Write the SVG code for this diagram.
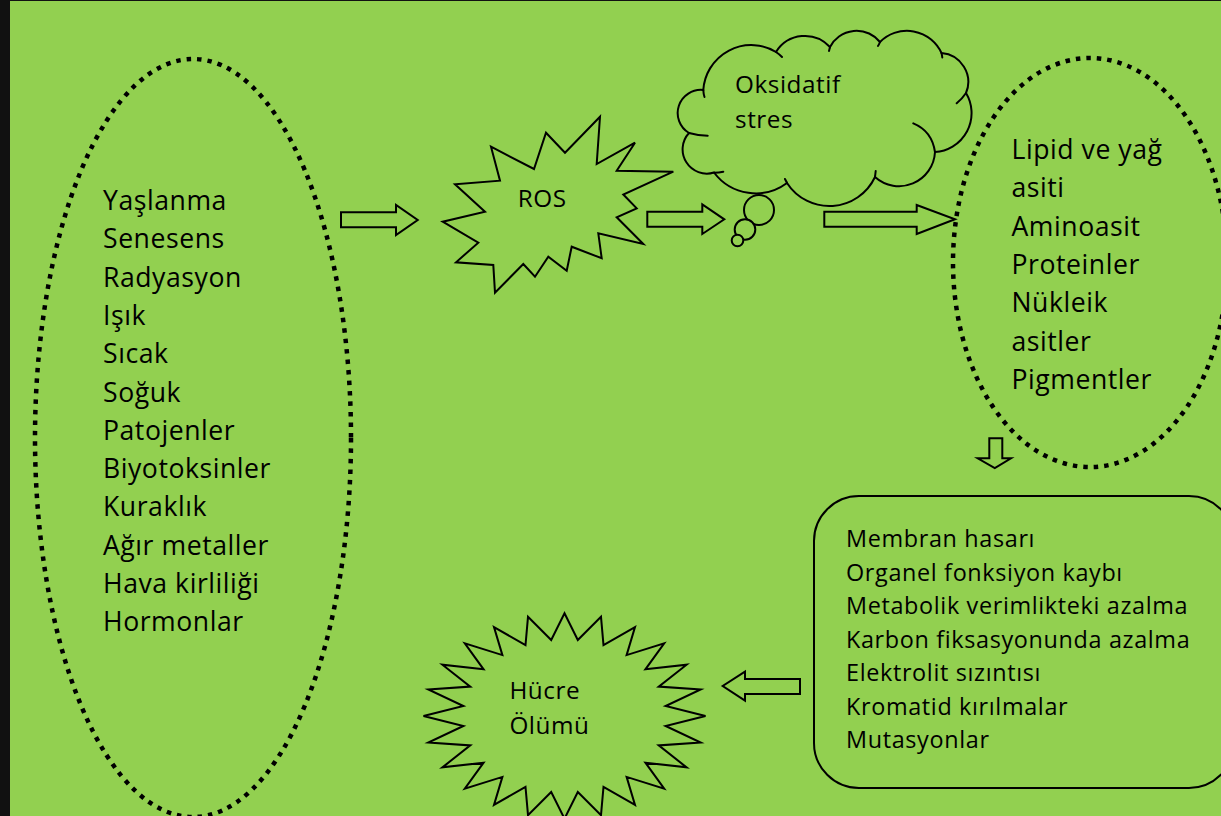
<svg xmlns="http://www.w3.org/2000/svg" width="1221" height="816" viewBox="0 0 1221 816">
<style>
.bg{fill:#92D050}
.sh{fill:#92D050;stroke:#000;stroke-width:2;stroke-linejoin:miter}
.ln{fill:none;stroke:#000;stroke-width:2;stroke-linecap:round}
.dot{fill:none;stroke:#000;stroke-width:4.5;stroke-dasharray:4.5 6}
text{font-family:"Open Sans","Noto Sans","DejaVu Sans",sans-serif;fill:#000}
.t1{font-size:26.6px;letter-spacing:0.55px}
.t2{font-size:24.3px;letter-spacing:0.55px}
.t3{font-size:23.4px;letter-spacing:0.65px}
</style>
<rect x="0" y="0" width="1221" height="816" fill="#111"/>
<rect class="bg" x="10" y="1" width="1211" height="815"/>

<g id="causes">
<ellipse class="dot" cx="193" cy="438" rx="158" ry="379"/>
<text class="t1" x="103"><tspan x="103" y="210">Yaşlanma</tspan><tspan x="103" y="248.3">Senesens</tspan><tspan x="103" y="286.6">Radyasyon</tspan><tspan x="103" y="324.9">Işık</tspan><tspan x="103" y="363.2">Sıcak</tspan><tspan x="103" y="401.5">Soğuk</tspan><tspan x="103" y="439.8">Patojenler</tspan><tspan x="103" y="478.1">Biyotoksinler</tspan><tspan x="103" y="516.4">Kuraklık</tspan><tspan x="103" y="554.7">Ağır metaller</tspan><tspan x="103" y="593">Hava kirliliği</tspan><tspan x="103" y="631.3">Hormonlar</tspan></text>
</g>

<g id="ros">
<polygon class="sh" points="491,146.7 534,169 546,132.7 565,152.7 600,116.7 596.7,164 635,142.7 616.7,170.7 673.3,171.7 623.3,194.5 636.7,208.3 616.7,217.3 643.3,244 598.3,233.3 601.7,258.3 571.7,246.7 566.7,270.7 548.3,256.7 535,276.7 523.3,264 495,292.7 493.3,265 456,262.3 478.3,242.7 442.7,221.7 485,211.7 455,184.3 500,180.7"/>
<text class="t2" x="517.7" y="206.7">ROS</text>
</g>

<g id="oksidatif-stres">
<path class="sh" d="M689,133 A23.2,23.2 0 0 1 703.3,90 A48,48 0 0 1 776,52 A34,34 0 0 1 830,47 A30,30 0 0 1 880,42 A38,38 0 0 1 941.5,53 A29,29 0 0 1 966,93 A39,39 0 0 1 935,152 A36,36 0 0 1 875,177 A50.4,50.4 0 0 1 787,183 A52.3,52.3 0 0 1 714,172.5 A24.2,24.2 0 0 1 689,133 Z"/>
<path class="ln" d="M703.3,90 Q703.5,94 704.5,97 M776,52 Q779,54 782,57 M830,47 Q829.5,49 829,51 M880,42 Q879,44.5 878,46 M941.5,53 Q942,55 942.3,57.5 M966,93 Q962,99 956.7,103.3 M935,152 Q932,131 913.3,123.3 M875,177 L875.7,171 M787,183 L785,179 M714,172.8 Q719,172.8 723.3,171.7 M689,133 Q698,135.5 707.7,135.7"/>
<circle class="sh" cx="759" cy="210" r="15"/>
<circle class="sh" cx="745" cy="229.5" r="10.3"/>
<circle class="sh" cx="737.5" cy="240.5" r="5.8"/>
<text class="t2" x="735"><tspan x="735" y="93.3">Oksidatif</tspan><tspan x="735" y="128.3">stres</tspan></text>
</g>

<g id="targets">
<ellipse class="dot" cx="1090" cy="262.5" rx="137" ry="204.5"/>
<text class="t1" x="1011.5"><tspan x="1011.5" y="159">Lipid ve yağ</tspan><tspan x="1011.5" y="197.3">asiti</tspan><tspan x="1011.5" y="235.6">Aminoasit</tspan><tspan x="1011.5" y="273.9">Proteinler</tspan><tspan x="1011.5" y="312.2">Nükleik</tspan><tspan x="1011.5" y="350.5">asitler</tspan><tspan x="1011.5" y="388.8">Pigmentler</tspan></text>
</g>

<g id="damage">
<rect class="sh" x="814" y="496" width="420" height="292" rx="45" ry="45"/>
<text class="t3" x="846"><tspan x="846" y="547">Membran hasarı</tspan><tspan x="846" y="580.5">Organel fonksiyon kaybı</tspan><tspan x="846" y="614">Metabolik verimlikteki azalma</tspan><tspan x="846" y="647.5">Karbon fiksasyonunda azalma</tspan><tspan x="846" y="681">Elektrolit sızıntısı</tspan><tspan x="846" y="714.5">Kromatid kırılmalar</tspan><tspan x="846" y="748">Mutasyonlar</tspan></text>
</g>

<g id="cell-death">
<polygon class="sh" points="564.5,613.3 577.8,640 601,616.8 603.5,645.1 635,627.1 626.6,655.1 664.2,643.4 645.4,669.3 686.6,664.7 658.7,686.6 700.7,689.4 665.6,706 705.5,716 665.6,726 700.7,742.6 658.7,745.4 686.6,767.35 645.4,762.7 664.2,788.6 626.6,776.9 635,804.9 603.5,786.9 601,815.2 577.8,792 564.5,818.7 551.2,792 528,815.2 525.5,786.9 494,804.9 502.4,776.9 464.8,788.6 483.6,762.7 442.4,767.35 470.3,745.4 428.3,742.6 463.4,726 423.5,716 463.4,706 428.3,689.4 470.3,686.6 442.4,664.7 483.6,669.3 464.8,643.4 502.4,655.1 494,627.1 525.5,645.1 528,616.8 551.2,640"/>
<text class="t2" x="509.4"><tspan x="509.4" y="699.3">Hücre</tspan><tspan x="509.4" y="734">Ölümü</tspan></text>
</g>

<g id="connectors">
<polygon class="sh" points="341,212.3 396,212.3 396,205 417.7,220 396,235 396,227.3 341,227.3"/>
<polygon class="sh" points="647.3,211.7 702.3,211.7 702.3,204.3 724.3,219.3 702.3,234 702.3,226.7 647.3,226.7"/>
<polygon class="sh" points="824.3,211.7 916.7,211.7 916.7,205 955,219.3 916.7,234 916.7,226.7 824.3,226.7"/>
<polygon class="sh" points="989.3,438.3 1002.3,438.3 1002.3,458.3 1011,458.3 994.8,468 977.7,458.3 989.3,458.3"/>
<polygon class="sh" points="800,679 745,679 745,671.7 722.7,686 745,700.7 745,694 800,694"/>
</g>
</svg>
